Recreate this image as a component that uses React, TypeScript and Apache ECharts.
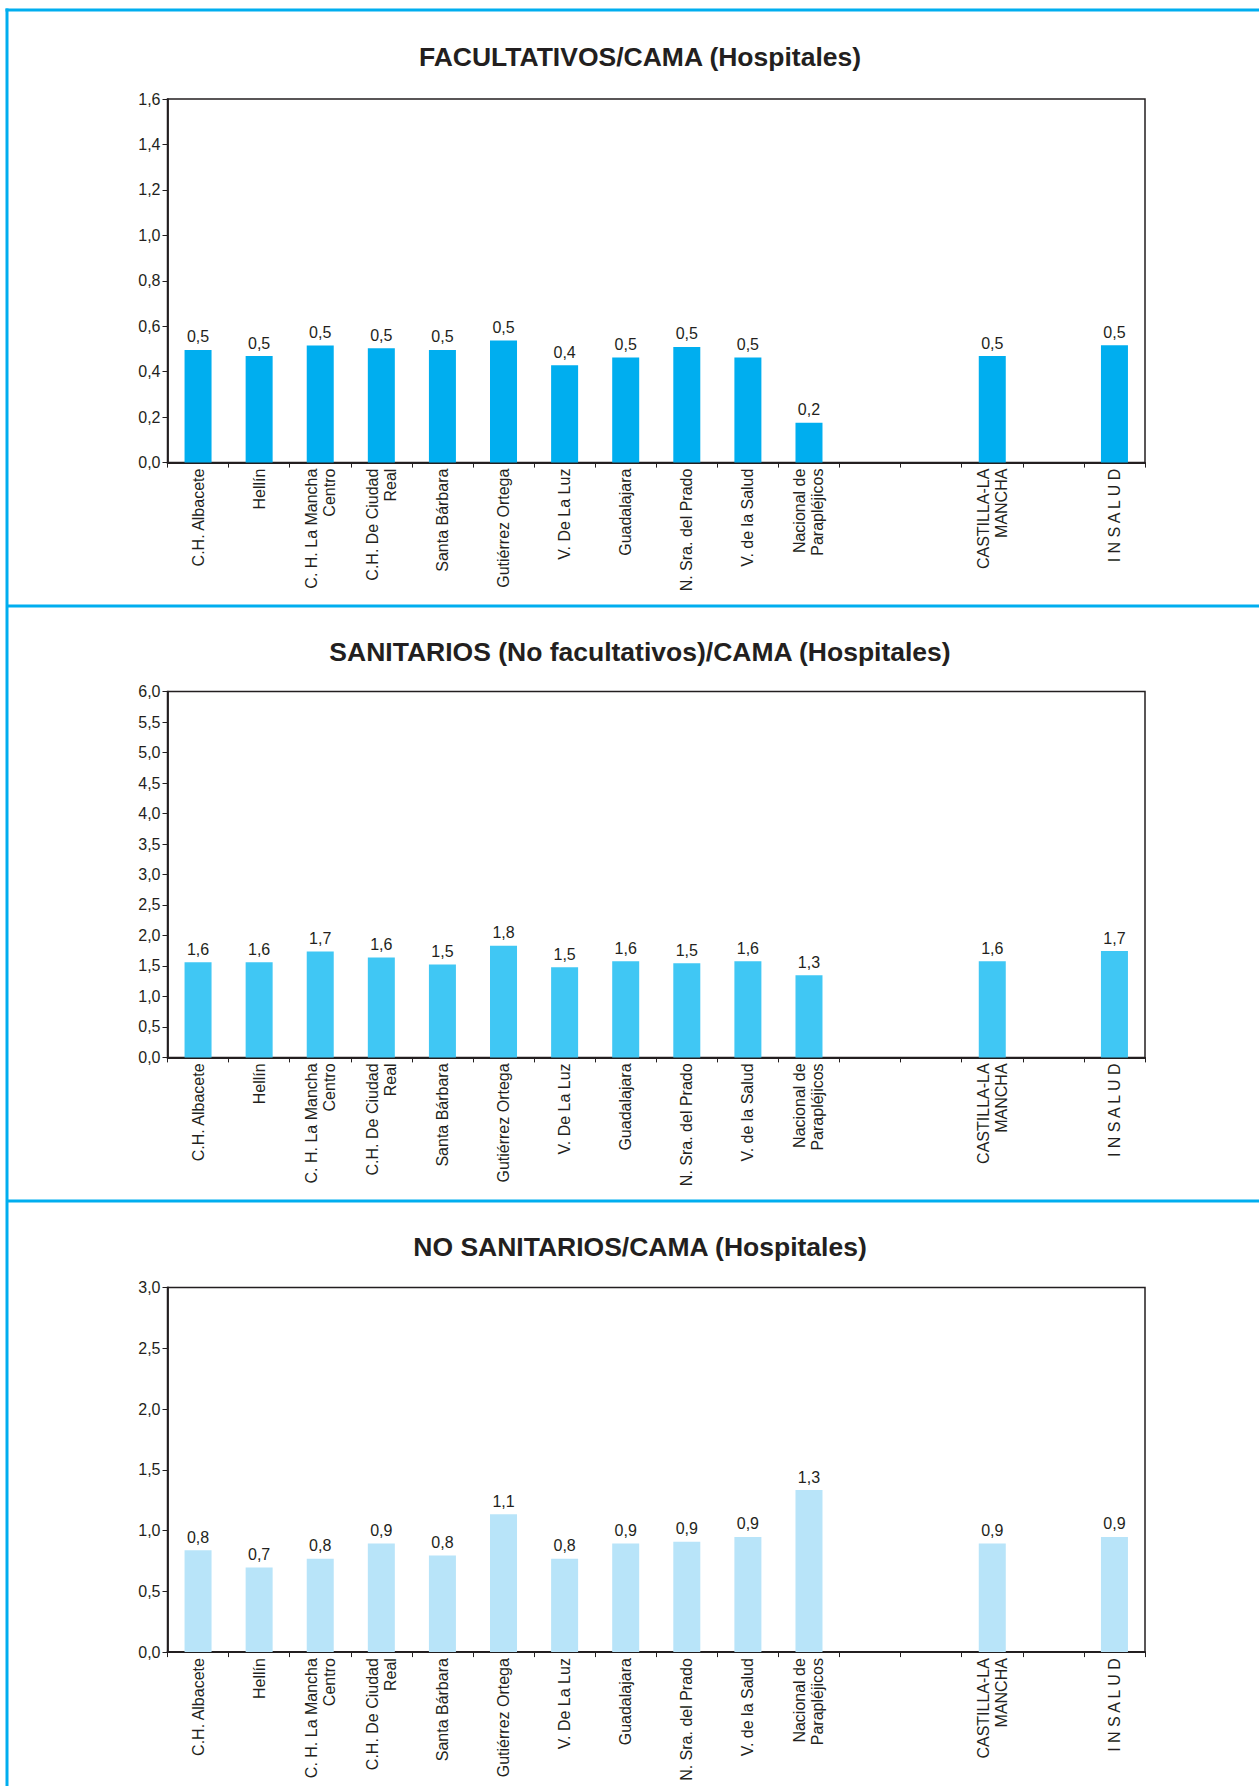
import React, { useEffect, useRef } from "react";
import * as echarts from "echarts";

const categories = [
  "C.H. Albacete",
  "Hellín",
  "C. H. La Mancha\nCentro",
  "C.H. De Ciudad\nReal",
  "Santa Bárbara",
  "Gutiérrez Ortega",
  "V. De La Luz",
  "Guadalajara",
  "N. Sra. del Prado",
  "V. de la Salud",
  "Nacional de\nParapléjicos",
  " ",
  "  ",
  "CASTILLA-LA\nMANCHA",
  "   ",
  "I N S A L U D",
];

const facultativos = [0.496, 0.469, 0.515, 0.503, 0.496, 0.537, 0.429, 0.463, 0.509, 0.463, 0.175, null, null, 0.469, null, 0.516];
const sanitarios = [1.56, 1.56, 1.736, 1.637, 1.522, 1.83, 1.478, 1.577, 1.544, 1.577, 1.346, null, null, 1.577, null, 1.745];
const noSanitarios = [0.839, 0.697, 0.768, 0.893, 0.795, 1.134, 0.768, 0.893, 0.907, 0.948, 1.333, null, null, 0.893, null, 0.948];

const titles = [
  "FACULTATIVOS/CAMA (Hospitales)",
  "SANITARIOS (No facultativos)/CAMA (Hospitales)",
  "NO SANITARIOS/CAMA (Hospitales)",
];
const yMax = [1.6, 6, 3];
const yStep = [0.2, 0.5, 0.5];
const barColors = ["#00AEEF", "#40C7F4", "#B8E4F9"];

const fmt = (v: number) => v.toFixed(1).replace(".", ",");

export default function App() {
  const ref = useRef<HTMLDivElement>(null);
  useEffect(() => {
    if (!ref.current) return;
    const chart = echarts.init(ref.current, null, { renderer: "svg" });
    const font = "Liberation Sans, Arial, Helvetica, sans-serif";
    const ink = "#231F20";
    const frame = "#00AEEF";
    const gridTop = [99.1, 691.6, 1287.5];
    const gridH = [363.5, 365.8, 364.6];
    const titleY = [57, 652, 1246.5];
    const seriesData = [facultativos, sanitarios, noSanitarios];

    const grids = gridTop.map((t, i) => ({
      left: 167.5,
      width: 977.5,
      top: t,
      height: gridH[i],
      show: true,
      borderColor: ink,
      borderWidth: 1.5,
      backgroundColor: "transparent",
    }));

    const xAxes = gridTop.map((_, i) => ({
      type: "category",
      gridIndex: i,
      data: categories,
      axisLine: { lineStyle: { color: ink, width: 1.8 } },
      axisTick: { show: true, length: 5, lineStyle: { color: ink, width: 1 } },
      axisLabel: {
        interval: 0,
        rotate: 90,
        margin: 6,
        fontSize: 16,
        lineHeight: 18,
        color: ink,
        fontFamily: font,
      },
    }));

    const yAxes = gridTop.map((_, i) => ({
      type: "value",
      gridIndex: i,
      min: 0,
      max: yMax[i],
      interval: yStep[i],
      splitLine: { show: false },
      axisLine: { show: true, lineStyle: { color: ink, width: 1.8 } },
      axisTick: { show: true, length: 5, lineStyle: { color: ink, width: 1 } },
      axisLabel: {
        margin: 7,
        fontSize: 16,
        color: ink,
        fontFamily: font,
        formatter: (v: number) => fmt(v),
      },
    }));

    const series = seriesData.map((d, i) => ({
      type: "bar",
      xAxisIndex: i,
      yAxisIndex: i,
      data: d,
      barWidth: 27,
      itemStyle: { color: barColors[i] },
      label: {
        show: true,
        position: "top",
        distance: 5,
        fontSize: 16,
        color: ink,
        fontFamily: font,
        formatter: (p: any) => (p.value == null ? "" : fmt(p.value)),
      },
    }));

    const graphics: any[] = [
      { type: "line", shape: { x1: 5.5, y1: 10, x2: 1259, y2: 10 }, style: { stroke: frame, lineWidth: 3 } },
      { type: "line", shape: { x1: 7, y1: 8.5, x2: 7, y2: 1786 }, style: { stroke: frame, lineWidth: 3 } },
      { type: "line", shape: { x1: 7, y1: 606, x2: 1259, y2: 606 }, style: { stroke: frame, lineWidth: 3 } },
      { type: "line", shape: { x1: 7, y1: 1201, x2: 1259, y2: 1201 }, style: { stroke: frame, lineWidth: 3 } },
    ];
    titles.forEach((t, i) => {
      graphics.push({
        type: "text",
        x: 640,
        y: titleY[i],
        style: {
          text: t,
          fill: ink,
          fontSize: 26.5,
          fontWeight: "bold",
          fontFamily: font,
          align: "center",
          verticalAlign: "middle",
        },
      });
    });

    chart.setOption({
      animation: false,
      backgroundColor: "#ffffff",
      grid: grids,
      xAxis: xAxes,
      yAxis: yAxes,
      series,
      graphic: graphics,
    });
    return () => chart.dispose();
  }, []);
  return (
    <div
      ref={ref}
      style={{ position: "absolute", left: 0, top: 0, width: 1259, height: 1786 }}
    />
  );
}
